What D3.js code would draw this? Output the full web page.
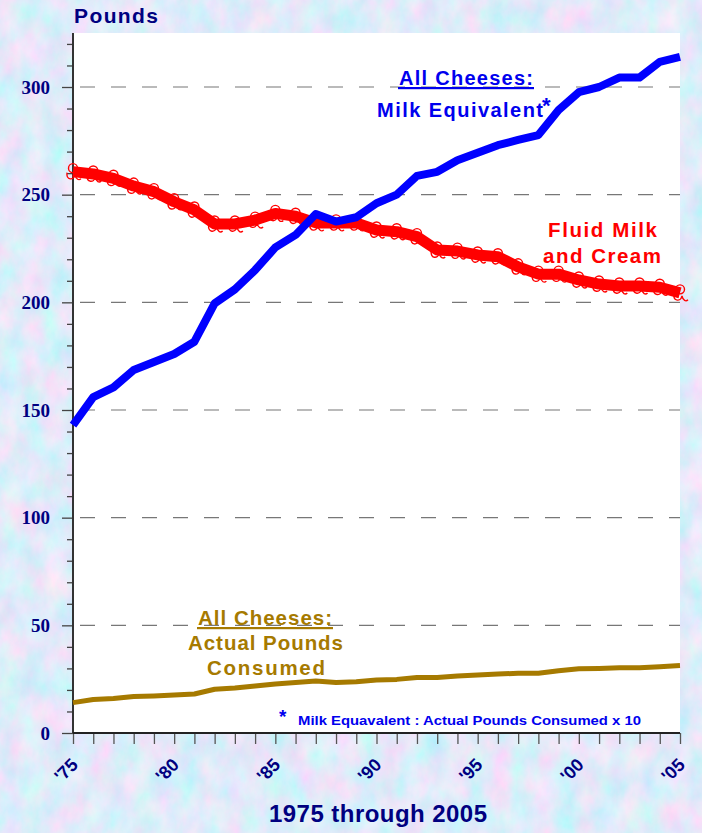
<!DOCTYPE html>
<html><head><meta charset="utf-8">
<script src="https://cdn.jsdelivr.net/npm/d3@7"></script>
<style>html,body{margin:0;padding:0;background:#c4dcf5;}svg{display:block;}</style>
</head><body>
<script>
const years = d3.range(1975, 2006);
const milkEquivalent = [143,156,160.5,168.6,172.3,176,181.7,199.5,206,215,225.5,231.3,241,237.5,239.5,246,250,258.7,260.6,266,269.5,273,275.4,277.7,289.3,297.6,300,304.4,304.4,311.7,314];
const fluidMilk = [260.7,259.6,257.6,254,251.4,246.7,242.9,236.4,236.4,238.2,241.3,240,236.9,236.9,236.9,233.6,232.8,230.5,224.3,223.8,222,221.2,216.5,213.1,213.1,210.4,208.5,207.6,207.6,207,204.4];
const actualPounds = [14.1,15.6,16,16.9,17.2,17.6,18.1,20.3,20.9,21.8,22.8,23.4,24.1,23.5,23.8,24.6,24.9,25.8,25.8,26.5,26.9,27.4,27.7,27.7,28.9,29.8,30,30.3,30.3,30.8,31.3];
const yTicks = [0,50,100,150,200,250,300];
const xTickLabels = {1975:"'75",1980:"'80",1985:"'85",1990:"'90",1995:"'95",2000:"'00",2005:"'05"};

const W=702,H=833;
const svg=d3.select("body").append("svg").attr("width",W).attr("height",H);
const defs=svg.append("defs");
const f=defs.append("filter").attr("id","tex").attr("x",0).attr("y",0).attr("width","100%").attr("height","100%");
f.append("feTurbulence").attr("type","fractalNoise").attr("baseFrequency","0.045 0.03").attr("numOctaves",5).attr("seed",11).attr("result","n");
f.append("feColorMatrix").attr("in","n").attr("type","matrix")
 .attr("values","0.65 0 0 0 0.42  -0.25 0.25 0 0 0.83  0 0 0.12 0 0.89  0 0 0 0 1");
svg.append("rect").attr("width",W).attr("height",H).attr("fill","#c4dcf5");
svg.append("rect").attr("width",W).attr("height",H).attr("filter","url(#tex)");

const L=73,R=680,T=33,B=733;
const x=d3.scaleLinear().domain([1975,2005]).range([L,R]);
const y=d3.scaleLinear().domain([0,300]).range([B,87]);
const yTop=y.invert(T);

svg.append("rect").attr("x",L).attr("y",T).attr("width",R-L).attr("height",B-T).attr("fill","#fff");

// gridlines
svg.append("g").selectAll("line").data(yTicks.filter(d=>d>0)).join("line")
 .attr("x1",L+7).attr("x2",R).attr("y1",d=>y(d)).attr("y2",d=>y(d))
 .attr("stroke","#777").attr("stroke-width",1.2).attr("stroke-dasharray","15,16");

// y axis
const minor=d3.range(0,yTop,10);
const gy=svg.append("g").attr("transform",`translate(${L},0)`);
gy.call(d3.axisLeft(y).tickValues(minor).tickSize(6).tickFormat(""));
gy.selectAll(".tick line").attr("stroke","#444").attr("stroke-width",1.3);
gy.select(".domain").remove();
gy.selectAll(".tick").filter(d=>d%50===0).select("line").attr("x2",-11);
gy.append("line").attr("x1",0).attr("x2",0).attr("y1",T).attr("y2",B).attr("stroke","#333").attr("stroke-width",2);
svg.append("g").selectAll("text").data(yTicks).join("text")
 .attr("x",50).attr("y",d=>y(d)+6.5).attr("text-anchor","end")
 .attr("font-family","Liberation Serif, Times New Roman, serif").attr("font-weight","bold").attr("font-size",19)
 .attr("fill","#000080").text(d=>d);

// x axis
const gx=svg.append("g").attr("transform",`translate(0,${B})`);
gx.call(d3.axisBottom(x).tickValues(years).tickSize(11).tickFormat(""));
gx.selectAll(".tick line").attr("stroke","#555").attr("stroke-width",1.3);
gx.select(".domain").remove();
gx.append("line").attr("x1",L).attr("x2",R).attr("y1",0).attr("y2",0).attr("stroke","#222").attr("stroke-width",2);
svg.append("g").selectAll("text").data(Object.keys(xTickLabels).map(Number)).join("text")
 .attr("transform",d=>`translate(${x(d)+6},${B+33}) rotate(-45)`).attr("text-anchor","end")
 .attr("font-family","Liberation Sans, Arial, sans-serif").attr("font-weight","bold").attr("font-size",18)
 .attr("fill","#000080").text(d=>xTickLabels[d]);

const sans="Liberation Sans, Arial, sans-serif";
// axis titles
svg.append("text").attr("x",74).attr("y",23).attr("font-family",sans)
 .attr("font-weight","bold").attr("font-size",21).attr("fill","#000080").attr("textLength",84).text("Pounds");
svg.append("text").attr("x",378).attr("y",822).attr("text-anchor","middle").attr("font-family",sans)
 .attr("font-weight","bold").attr("font-size",24).attr("fill","#000080").attr("textLength",218).text("1975 through 2005");

const line=d3.line().x((d,i)=>x(years[i])).y(d=>y(d));
// brown
svg.append("path").datum(actualPounds).attr("d",line).attr("fill","none").attr("stroke","#a67a00").attr("stroke-width",5).attr("stroke-linejoin","round");
// red
svg.append("path").datum(fluidMilk).attr("d",line).attr("fill","none").attr("stroke","#ff0000").attr("stroke-width",11).attr("stroke-linejoin","round");
const mk=svg.append("g").attr("fill","none").attr("stroke","#ff0000").attr("stroke-width",1.4);
mk.selectAll("circle.a").data(fluidMilk).join("circle").attr("class","a")
 .attr("cx",(d,i)=>x(years[i])).attr("cy",d=>y(d)-3.5).attr("r",4.5);
mk.selectAll("path.b").data(fluidMilk).join("path").attr("class","b")
 .attr("d",(d,i)=>{const cx=x(years[i]),cy=y(d);return `M${cx-6},${cy+1} C${cx-7},${cy+9} ${cx+1},${cy+9} ${cx+2},${cy+3} C${cx+3},${cy+8} ${cx+6},${cy+9} ${cx+8},${cy+7}`;});
// blue
svg.append("path").datum(milkEquivalent).attr("d",line).attr("fill","none").attr("stroke","#0000ff").attr("stroke-width",8).attr("stroke-linejoin","round");

// blue label
const bl=svg.append("g").attr("font-family",sans).attr("font-weight","bold").attr("fill","#0000ee").attr("font-size",20);
bl.append("text").attr("x",399).attr("y",85).attr("textLength",134).text("All Cheeses:");
bl.append("rect").attr("x",398).attr("y",87).attr("width",136).attr("height",2.2);
bl.append("text").attr("x",377).attr("y",117).attr("textLength",166).text("Milk Equivalent");
bl.append("text").attr("x",542).attr("y",113).attr("font-size",22).text("*");
// red label
const rl=svg.append("g").attr("font-family",sans).attr("font-weight","bold").attr("fill","#ff0000").attr("font-size",20.5);
rl.append("text").attr("x",548).attr("y",237).attr("textLength",109).text("Fluid Milk");
rl.append("text").attr("x",543).attr("y",263).attr("textLength",118).text("and Cream");
// brown label
const brl=svg.append("g").attr("font-family",sans).attr("font-weight","bold").attr("fill","#a67a00").attr("font-size",20.5);
brl.append("text").attr("x",198).attr("y",625).attr("textLength",134).text("All Cheeses:");
brl.append("rect").attr("x",197).attr("y",627).attr("width",136).attr("height",2.2);
brl.append("text").attr("x",188).attr("y",650).attr("textLength",155).text("Actual Pounds");
brl.append("text").attr("x",207).attr("y",675).attr("textLength",118).text("Consumed");
// footnote
svg.append("text").attr("x",279).attr("y",723).attr("font-family",sans).attr("font-weight","bold").attr("font-size",19).attr("fill","#0000ee").text("*");
svg.append("text").attr("x",298).attr("y",725).attr("font-family",sans).attr("font-weight","bold").attr("font-size",13.5)
 .attr("fill","#0000ee").attr("textLength",343).attr("lengthAdjust","spacingAndGlyphs").text("Milk Equavalent : Actual Pounds Consumed x 10");
</script>
</body></html>
